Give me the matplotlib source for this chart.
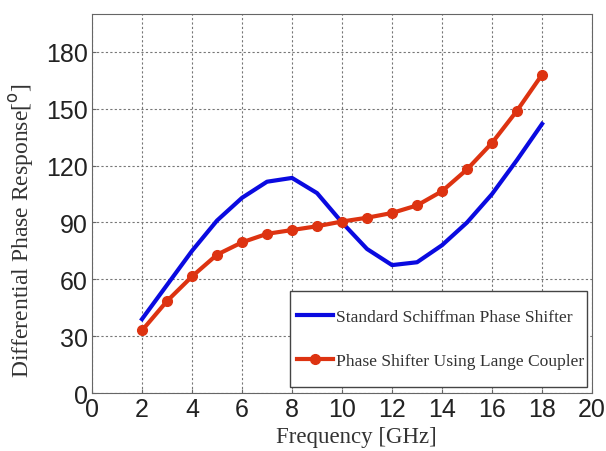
import matplotlib
matplotlib.use("Agg")
import matplotlib.pyplot as plt
from matplotlib.patches import Rectangle

freq = [2, 3, 4, 5, 6, 7, 8, 9, 10, 11, 12, 13, 14, 15, 16, 17, 18]
schiffman = [39, 57, 75, 91, 103, 111.5, 113.5, 105.5, 90, 76, 67.5, 69, 78, 90, 105, 123, 142]
lange = [33, 48.5, 61.5, 73, 79.5, 84, 86, 88, 90.5, 92.5, 95, 99, 106.5, 118, 132, 149, 168]
xticks = [0, 2, 4, 6, 8, 10, 12, 14, 16, 18, 20]
yticks = [0, 30, 60, 90, 120, 150, 180]

fig = plt.figure(figsize=(6.06, 4.52), dpi=100)
ax = fig.add_axes([0.1518, 0.1283, 0.8252, 0.8385])

ax.plot(freq, schiffman, color="#0a0ae0", lw=3, label="Standard Schiffman Phase Shifter", zorder=3)
ax.plot(freq, lange, color="#dd3311", lw=3, marker="o", ms=7, label="Phase Shifter Using Lange Coupler", zorder=4)

ax.set_xlim(0, 20)
ax.set_ylim(0, 200)
ax.set_xticks(xticks)
ax.set_yticks(yticks)
ax.grid(True, color="#777777", linestyle=(0, (2, 2)), lw=0.8)
ax.tick_params(direction="in", length=3, labelsize=18, color="#666666", pad=3)
for lab in ax.get_xticklabels() + ax.get_yticklabels():
    lab.set_family("Liberation Sans")
    lab.set_color("#222222")
for s in ax.spines.values():
    s.set_color("#666666")

ax.set_xlabel("Frequency [GHz]", family="Liberation Serif", fontsize=16.5, color="#333333")
ax.xaxis.set_label_coords(0.528, -0.088)
ax.set_ylabel(r"Differential Phase Response[$^{\rm o}$]", family="Liberation Serif", fontsize=17, color="#333333")
ax.yaxis.set_label_coords(-0.112, 0.43)

# legend frame box
ax.add_patch(Rectangle((0.396, 0.016), 0.594, 0.253, transform=ax.transAxes,
                       facecolor="white", edgecolor="#444444", lw=1.0, zorder=5))
leg = ax.legend(loc="center left", bbox_to_anchor=(0.41, 0.1425), prop={"family": "Liberation Serif", "size": 12.6},
                frameon=False, labelspacing=1.62, handlelength=2.05,
                handletextpad=0.2, borderpad=0, borderaxespad=0)
leg.set_zorder(6)
for t in leg.get_texts():
    t.set_color("#333333")

fig.savefig("out.png", dpi=100)
